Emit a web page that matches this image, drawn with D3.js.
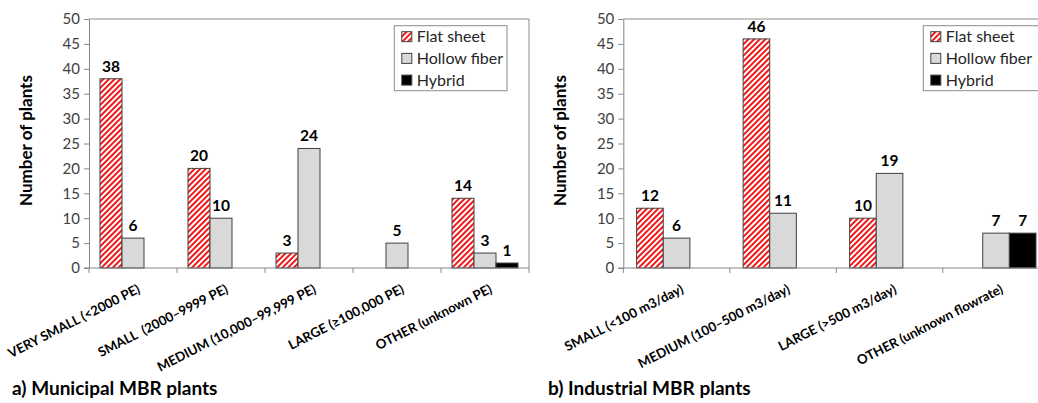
<!DOCTYPE html>
<html>
<head>
<meta charset="utf-8">
<script src="https://cdn.jsdelivr.net/npm/d3@7"></script>
<style>
  body { margin: 0; background: #fff; }
  svg { display: block; font-family: Lato, "Open Sans", sans-serif; }
</style>
</head>
<body>
<svg width="1038" height="403"></svg>
<script>
const series = ['Flat sheet', 'Hollow fiber', 'Hybrid']

const municipalCats = ['VERY SMALL (<2000 PE)', 'SMALL  (2000\u20139999 PE)', 'MEDIUM (10,000\u201399,999 PE)', 'LARGE (\u2265100,000 PE)', 'OTHER (unknown PE)']
const municipalFlat = [38, 20, 3, 0, 14]
const municipalHollow = [6, 10, 24, 5, 3]
const municipalHybrid = [0, 0, 0, 0, 1]

const industrialCats = ['SMALL (<100 m3/day)', 'MEDIUM (100\u2013500 m3/day)', 'LARGE (>500 m3/day)', 'OTHER (unknown flowrate)']
const industrialFlat = [12, 46, 10, 0]
const industrialHollow = [6, 11, 19, 7]
const industrialHybrid = [0, 0, 0, 7]

const yTicks = [0, 5, 10, 15, 20, 25, 30, 35, 40, 45, 50]

const svg = d3.select('svg')

const defs = svg.append('defs')
const pat = defs.append('pattern')
	.attr('id', 'hatch')
	.attr('patternUnits', 'userSpaceOnUse')
	.attr('width', 4)
	.attr('height', 4)
	.attr('patternTransform', 'rotate(45)')
pat.append('rect').attr('width', 4).attr('height', 4).attr('fill', '#fff')
pat.append('rect').attr('width', 2).attr('height', 4).attr('fill', '#f01818')

const fills = {'Flat sheet': 'url(#hatch)', 'Hollow fiber': '#d9d9d9', 'Hybrid': '#000'}

function drawPanel(opt) {
	const {cats, values, left, right, top, bottom, legendX, legendW, title} = opt
	const g = svg.append('g')

	const x0 = d3.scaleBand().domain(cats).range([left, right])
	const x1 = d3.scaleBand().domain(series).range([0, x0.bandwidth()]).paddingOuter(0.5)
	const y = d3.scaleLinear().domain([0, 50]).range([bottom, top])

	// frame (top + right)
	g.append('path')
		.attr('d', `M${left},${top}H${right}V${bottom}`)
		.attr('fill', 'none')
		.attr('stroke', '#8c8c8c')
		.attr('stroke-width', 1)

	// bars
	const rows = []
	cats.forEach((c, i) => {
		series.forEach((s, j) => {
			const v = values[j][i]
			if (v > 0) rows.push({c, s, v})
		})
	})

	g.selectAll('rect.bar')
		.data(rows)
		.join('rect')
		.attr('class', 'bar')
		.attr('x', d => x0(d.c) + x1(d.s))
		.attr('y', d => y(d.v))
		.attr('width', x1.bandwidth())
		.attr('height', d => y(0) - y(d.v))
		.attr('fill', d => fills[d.s])
		.attr('stroke', '#404040')
		.attr('stroke-width', 1)

	g.selectAll('text.val')
		.data(rows)
		.join('text')
		.attr('class', 'val')
		.attr('x', d => x0(d.c) + x1(d.s) + x1.bandwidth() / 2)
		.attr('y', d => y(d.v) - 7)
		.attr('text-anchor', 'middle')
		.attr('font-size', 15.5)
		.attr('font-weight', 'bold')
		.attr('fill', '#000')
		.text(d => d.v)

	// y axis
	const ya = g.append('g')
		.attr('transform', `translate(${left},0)`)
		.call(d3.axisLeft(y).tickValues(yTicks).tickSize(5).tickSizeOuter(0).tickPadding(4))
	ya.select('.domain').attr('stroke', '#868686')
	ya.selectAll('.tick line').attr('stroke', '#868686')
	ya.selectAll('.tick text')
		.attr('font-size', 15)
		.attr('font-family', 'Lato, sans-serif')
		.attr('fill', '#404040')

	// x axis baseline and category ticks
	g.append('line')
		.attr('x1', left - 5).attr('x2', right)
		.attr('y1', bottom).attr('y2', bottom)
		.attr('stroke', '#868686')
	const bounds = cats.map(c => x0(c)).concat([right])
	g.selectAll('line.xt')
		.data(bounds)
		.join('line')
		.attr('class', 'xt')
		.attr('x1', d => d).attr('x2', d => d)
		.attr('y1', bottom).attr('y2', bottom + 5)
		.attr('stroke', '#868686')

	g.selectAll('text.cat')
		.data(cats)
		.join('text')
		.attr('class', 'cat')
		.attr('transform', c => `translate(${x0(c) + x0.bandwidth() / 2 + 8},${bottom + 24}) rotate(-27)`)
		.attr('text-anchor', 'end')
		.attr('font-size', 13.2)
		.attr('font-weight', 'bold')
		.attr('fill', '#000')
		.attr('xml:space', 'preserve')
		.style('white-space', 'pre')
		.text(c => c)

	// y title
	g.append('text')
		.attr('transform', `translate(${left - 57},${(top + bottom) / 2 - 3}) rotate(-90)`)
		.attr('text-anchor', 'middle')
		.attr('font-size', 17)
		.attr('font-weight', 'bold')
		.attr('fill', '#000')
		.text('Number of plants')

	// legend
	const lg = g.append('g').attr('transform', `translate(${legendX},25.7)`)
	lg.append('rect')
		.attr('width', legendW).attr('height', 65)
		.attr('fill', '#fff')
		.attr('stroke', '#8c8c8c')
	series.forEach((s, i) => {
		lg.append('rect')
			.attr('x', 7.5).attr('y', 6 + i * 21.7)
			.attr('width', 10).attr('height', 10)
			.attr('fill', fills[s])
			.attr('stroke', '#404040')
		lg.append('text')
			.attr('x', 22.5).attr('y', 16.5 + i * 21.7)
			.attr('font-size', 16)
			.attr('fill', '#262626')
			.text(s)
	})

	// panel title
	g.append('text')
		.attr('x', opt.titleX).attr('y', 395)
		.attr('font-size', 19)
		.attr('font-weight', 'bold')
		.attr('fill', '#000')
		.text(title)
}

drawPanel({
	cats: municipalCats,
	values: [municipalFlat, municipalHollow, municipalHybrid],
	left: 89, right: 529, top: 19, bottom: 268,
	legendX: 394.3, legendW: 112.7,
	title: 'a) Municipal MBR plants', titleX: 12
})

drawPanel({
	cats: industrialCats,
	values: [industrialFlat, industrialHollow, industrialHybrid],
	left: 623.3, right: 1049.3, top: 19, bottom: 268,
	legendX: 923.3, legendW: 125,
	title: 'b) Industrial MBR plants', titleX: 548
})
</script>
</body>
</html>
